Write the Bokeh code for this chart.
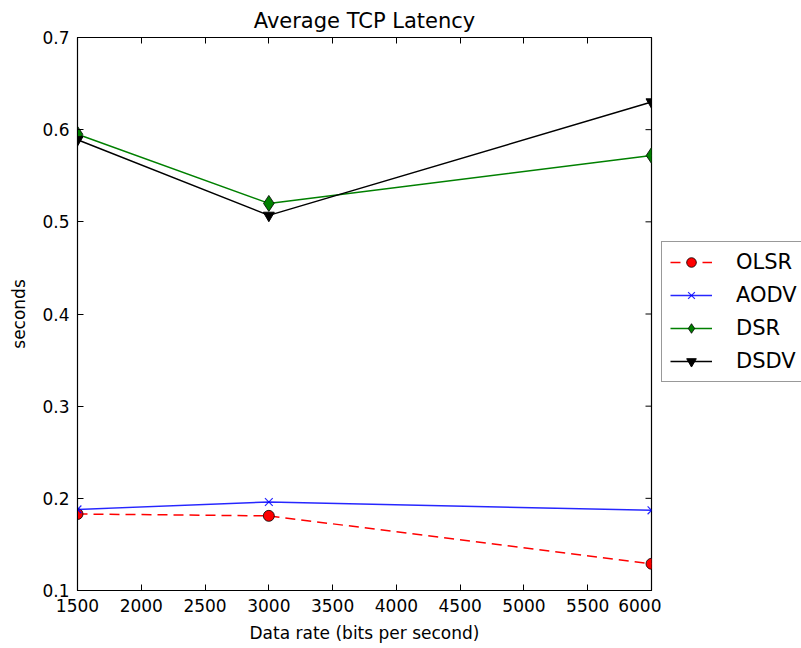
import math
from bokeh.plotting import figure
from bokeh.layouts import row
from bokeh.models import Legend, LegendItem, LinearAxis, FixedTicker, Range1d
from bokeh.embed import file_html
from bokeh.resources import INLINE

# Data
data_rate = [1500, 3000, 6000]
olsr = [0.183, 0.181, 0.129]
aodv = [0.188, 0.196, 0.187]
dsr = [0.595, 0.520, 0.572]
dsdv = [0.589, 0.507, 0.630]
x_ticks = [1500, 2000, 2500, 3000, 3500, 4000, 4500, 5000, 5500, 6000]
y_ticks = [0.1, 0.2, 0.3, 0.4, 0.5, 0.6, 0.7]
series_names = ["OLSR", "AODV", "DSR", "DSDV"]

FONT = "DejaVu Sans"

p = figure(width=661, height=648, output_backend="svg", toolbar_location=None,
           x_range=Range1d(1500, 6000), y_range=Range1d(0.1, 0.7),
           min_border_left=77, min_border_right=10, min_border_top=37, min_border_bottom=58,
           x_axis_label="Data rate (bits per second)", y_axis_label="seconds")
p.title.text = "Average TCP Latency"
p.title.align = "center"
p.title.text_font = FONT
p.title.text_font_size = "21px"
p.title.text_font_style = "normal"
p.title.text_color = "black"

p.grid.visible = False
p.outline_line_color = "black"
p.outline_line_width = 1.2
p.background_fill_color = "white"
p.border_fill_color = "white"

for ax in (p.xaxis[0], p.yaxis[0]):
    ax.major_tick_in = 6
    ax.major_tick_out = 0
    ax.minor_tick_in = 0
    ax.minor_tick_out = 0
    ax.axis_line_color = "black"
    ax.major_tick_line_color = "black"
    ax.major_label_text_font = FONT
    ax.major_label_text_font_size = "17px"
    ax.major_label_text_color = "black"
    ax.axis_label_text_font = FONT
    ax.axis_label_text_font_size = "17px"
    ax.axis_label_text_font_style = "normal"
    ax.axis_label_text_color = "black"
    ax.major_label_standoff = 8
p.xaxis[0].ticker = FixedTicker(ticks=x_ticks)
p.yaxis[0].ticker = FixedTicker(ticks=y_ticks)
p.yaxis[0].axis_label_standoff = 10
p.xaxis[0].axis_label_standoff = 8

top = LinearAxis(ticker=FixedTicker(ticks=x_ticks), major_tick_in=6, major_tick_out=0,
                 minor_tick_in=0, minor_tick_out=0, major_label_text_font_size="0px",
                 major_label_standoff=0)
p.add_layout(top, "above")

# right-side inward ticks (decoration)
p.ray(x=[x_ticks[-1]] * len(y_ticks), y=y_ticks, length=6, length_units="screen",
      angle=math.pi, line_color="black", line_width=1)

styles = [
    dict(line=dict(line_color="#ff0000", line_width=1.5, line_dash="10 6"),
         mark=dict(marker="circle", size=11, fill_color="#ff0000", line_color="black", line_width=0.8)),
    dict(line=dict(line_color="#0000ff", line_width=1.5, line_alpha=0.85),
         mark=dict(marker="x", size=11, line_color="#0000ff", line_width=1.2, line_alpha=0.85)),
    dict(line=dict(line_color="#008000", line_width=1.5),
         mark=dict(marker="diamond", size=16, fill_color="#008000", line_color="black", line_width=0.8)),
    dict(line=dict(line_color="black", line_width=1.5),
         mark=dict(marker="inverted_triangle", size=11, fill_color="black", line_color="black")),
]
series = [olsr, aodv, dsr, dsdv]

for vals, st in zip(series, styles):
    p.line(data_rate, vals, **st["line"])
    p.scatter(data_rate, vals, **st["mark"])

# Legend panel (separate figure so the legend is not clipped by the plot frame)
lg = figure(width=140, height=648, output_backend="svg", toolbar_location=None,
            x_range=Range1d(0, 1), y_range=Range1d(0, 1),
            x_axis_type=None, y_axis_type=None,
            min_border=0, min_border_left=0, min_border_right=0, min_border_top=0, min_border_bottom=0)
lg.grid.visible = False
lg.outline_line_color = None
lg.background_fill_color = "white"
lg.border_fill_color = "white"

items = []
for name, vals, st in zip(series_names, series, styles):
    # same series drawn outside this panel's visible range; only its legend entry shows
    r1 = lg.line(data_rate, vals, **st["line"])
    r2 = lg.scatter(data_rate, vals, **st["mark"])
    items.append(LegendItem(label=name, renderers=[r1, r2]))

legend = Legend(items=items, location=(0, 208))
legend.label_text_font = FONT
legend.label_text_font_size = "21px"
legend.label_text_color = "black"
legend.glyph_width = 42
legend.glyph_height = 24
legend.label_height = 24
legend.spacing = 9
legend.padding = 8
legend.label_standoff = 24
legend.border_line_color = "#333333"
legend.border_line_width = 1.5
legend.background_fill_color = "white"
legend.background_fill_alpha = 1.0
legend.margin = 0
lg.add_layout(legend, "center")

layout = row(p, lg, spacing=0)
open("out.html", "w").write(file_html(layout, INLINE))
